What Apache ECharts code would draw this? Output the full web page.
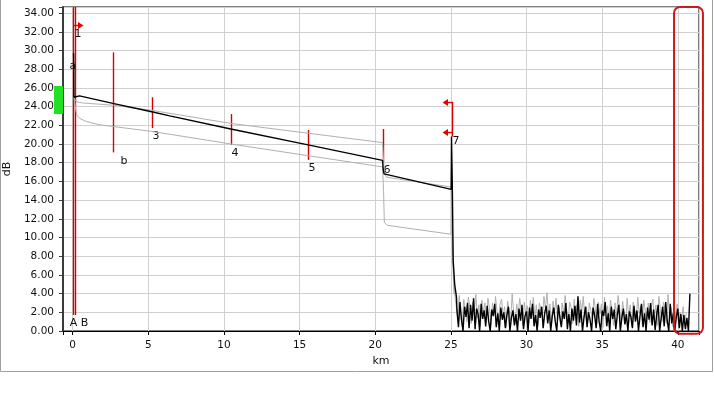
<!DOCTYPE html>
<html><head><meta charset="utf-8">
<script src="https://cdn.jsdelivr.net/npm/echarts@6/dist/echarts.min.js"></script>
<style>html,body{margin:0;padding:0;background:#fff}#c{width:714px;height:400px}</style>
</head><body><div id="c"></div>
<script>
// ---------------- data ----------------
const xMin = -0.64, xMax = 41.4;
const yMin = 0, yMax = 34.65;
const xTickLabels = [0, 5, 10, 15, 20, 25, 30, 35, 40];
const yTickStep = 2;

// main (black) trace, fibre section
const blackKm = [0.06, 0.08, 0.45, 2.65, 5.22, 6.42, 10.45, 15.56, 20.48, 20.52, 20.58, 20.7, 25.02, 25.04, 25.09, 25.15, 25.25, 25.37];
const blackDb = [29.7, 25.0, 25.15, 24.35, 23.45, 23.0, 21.6, 19.9, 18.25, 17.4, 16.8, 16.65, 15.15, 20.8, 16.0, 7.6, 5.0, 3.6];
// main trace, noise floor after the fibre end (sampled every 0.1 km from 25.4 km)
const blackNoiseStartKm = 25.4, blackNoiseStepKm = 0.1;
const blackNoiseDb = [
 2.2,0.4,3.1,1.2,0,2.6,1.5,3.0,0.3,2.8,
 1.1,3.5,0.2,2.4,1.8,0,2.9,1.3,2.2,0.5,
 2.7,1.0,0,2.3,1.6,2.9,0.4,1.9,0,2.5,
 1.2,2.0,0.3,1.7,2.6,0,1.4,2.2,0.6,1.8,
 0,2.4,1.1,2.8,0.2,1.6,2.1,0,2.5,1.3,
 2.9,0.5,1.7,0,2.3,1.4,2.6,0.3,1.9,2.7,
 0.8,2.2,0,1.6,2.5,1.0,0,2.8,1.5,0.4,
 2.1,1.3,3.0,0.2,1.8,0,2.4,1.1,2.7,0.6,
 3.7,0.9,2.3,0,1.5,2.6,0.4,2.0,1.2,0,
 2.5,1.7,0.3,2.9,1.0,0,2.2,1.6,3.1,0.5,
 1.9,0,2.6,1.3,2.3,0.2,1.7,2.8,0,1.4,
 2.4,0.7,1.8,0,2.1,1.5,0.3,2.7,1.0,2.2,
 0,1.6,2.9,0.4,1.9,0,2.5,1.2,3.0,0.6,
 2.3,0.1,1.7,2.8,0,1.4,2.6,0.5,3.1,1.1,
 0,2.9,0.8,1.9,0,1.5,2.4,0.3,1.8,0,
 1.7,0.2,1.4,0,4.0];

// reference trace 1 (upper grey)
const grey1Km = [0.08, 0.2, 0.4, 0.7, 2.65, 5.22, 10.45, 15.56, 20.48, 20.54, 20.62, 20.75, 25.0, 25.04, 25.1, 25.2];
const grey1Db = [25.0, 24.6, 24.45, 24.38, 24.15, 23.6, 22.2, 21.15, 20.15, 18.5, 16.8, 16.45, 15.4, 17.5, 9.0, 4.0];

// reference trace 2 (lower grey)
const grey2Km = [0.08, 0.16, 0.22, 0.3, 0.45, 0.9, 1.79, 5.22, 10.45, 15.56, 20.48, 20.55, 20.6, 20.8, 25.0, 25.02, 25.1, 25.2, 25.3];
const grey2Db = [25.0, 24.2, 23.5, 23.0, 22.75, 22.4, 22.05, 21.35, 20.0, 18.75, 17.55, 15.0, 11.6, 11.3, 10.35, 15.4, 10.0, 5.0, 3.3];
const greyNoiseStartKm = 25.35, greyNoiseStepKm = 0.1;
const greyNoiseDb = [
 3.2,1.5,3.8,2.0,0.6,3.4,2.3,1.0,3.6,2.7,
 0.8,3.1,2.2,3.9,1.4,2.8,0.5,3.3,2.0,3.0,
 1.2,3.5,2.4,0.7,3.0,1.8,3.7,2.1,0.9,2.9,
 3.4,1.6,2.6,0.4,3.2,2.3,1.1,4.0,2.0,0.8,
 2.9,1.7,3.5,2.2,0.6,3.1,1.9,2.7,0.9,3.3,
 2.1,3.6,1.3,2.8,0.5,3.0,2.2,1.5,3.7,2.4,
 4.1,1.8,2.9,0.7,3.2,2.0,3.5,1.1,2.6,0.6,
 3.0,1.9,3.8,2.3,1.0,3.1,2.5,0.8,3.4,1.6,
 2.8,0.5,3.3,2.1,3.7,1.4,2.6,0.9,3.0,2.2,
 1.3,3.5,2.4,0.7,3.1,1.8,2.9,0.4,3.6,2.0,
 2.7,1.0,3.3,2.2,0.6,3.0,1.7,3.8,2.4,1.1,
 3.2,2.0,0.8,3.5,1.6,2.8,0.5,3.1,2.3,1.2,
 3.6,1.9,2.7,0.7,3.3,2.1,1.4,3.0,0.9,2.6,
 3.4,1.5,2.8,0.6,3.7,2.2,1.0,3.1,2.4,0.8,
 3.9,1.7,2.5,0.5,3.2,1.3,2.9,0.4,2.0,1.1,
 2.6,0.6,1.9];

// event markers
const markerNames = ['b', '3', '4', '5', '6', '7'];
const markerKm = [2.65, 5.22, 10.45, 15.56, 20.52, 25.05];
const markerTopDb = [29.8, 25.0, 23.2, 21.5, 21.6, 24.5];
const markerBottomDb = [19.1, 21.7, 19.9, 18.3, 18.1, 20.8];

// A / B cursors
const cursorNames = ['A', 'B'];
const cursorKm = [0.02, 0.17];
const cursorTopDb = [34.65, 34.65];
const cursorBottomDb = [1.7, 1.7];

// arrows (1 = right, -1 = left)
const arrowLabels = ['1', '', ''];
const arrowKm = [0.02, 25.05, 25.05];
const arrowDb = [32.7, 24.5, 21.3];
const arrowDir = [1, -1, -1];

// free text
const textLabels = ['a'];
const textKm = [0.02];
const textDb = [28.3];

// green level indicator on the dB axis
const levelTopDb = 26.2, levelBottomDb = 23.2;

// red end-zone box
const zoneKm = [39.75, 41.66];
const zoneDb = [34.65, -0.3];

// ---------------- build ----------------
const pairs = (xs, ys) => xs.map((x, i) => [x, ys[i]]);
const blackData = pairs(blackKm, blackDb).concat(blackNoiseDb.map((v, i) => [+(blackNoiseStartKm + i * blackNoiseStepKm).toFixed(2), v]));
const grey1Data = pairs(grey1Km, grey1Db);
const grey2Data = pairs(grey2Km, grey2Db).concat(greyNoiseDb.map((v, i) => [+(greyNoiseStartKm + i * greyNoiseStepKm).toFixed(2), v]));

const RED = '#d80000';
const ARROW = '#e80000';
const LABEL_FONT = '11px "DejaVu Sans"';

const chart = echarts.init(document.getElementById('c'), null, {renderer: 'canvas'});

const option = {
  animation: false,
  backgroundColor: '#fff',
  grid: {left: 63, right: 15, top: 7, bottom: 69, show: true, borderColor: '#000', borderWidth: 1,
         backgroundColor: '#fff', containLabel: false, outerBoundsMode: 'none'},
  xAxis: {
    type: 'value', min: xMin, max: xMax, splitNumber: 8,
    name: 'km', nameLocation: 'middle', nameGap: 22,
    nameTextStyle: {fontFamily: 'DejaVu Sans', fontSize: 11, color: '#111'},
    axisLine: {onZero: false, lineStyle: {color: '#000', width: 1}},
    axisTick: {show: true, length: 4, lineStyle: {color: '#000'}},
    axisLabel: {margin: 9, fontFamily: 'DejaVu Sans', fontSize: 10.5, color: '#111',
      formatter: v => xTickLabels.indexOf(Math.round(v * 1000) / 1000) >= 0 ? String(Math.round(v)) : ''},
    splitLine: {show: true, lineStyle: {color: '#d0d0d0', width: 1}}
  },
  yAxis: {
    type: 'value', min: yMin, max: yMax, interval: yTickStep,
    name: 'dB', nameLocation: 'middle', nameGap: 47, nameRotate: 90,
    nameTextStyle: {fontFamily: 'DejaVu Sans', fontSize: 11, color: '#111'},
    axisLine: {onZero: false, lineStyle: {color: '#3a3a3a', width: 2}},
    axisTick: {show: true, length: 4, lineStyle: {color: '#3a3a3a'}},
    axisLabel: {margin: 9, fontFamily: 'DejaVu Sans', fontSize: 10.5, color: '#111',
      formatter: v => (v <= 34.01 && Math.abs(v / yTickStep - Math.round(v / yTickStep)) < 1e-6) ? v.toFixed(2) : ''},
    splitLine: {show: true, lineStyle: {color: '#d0d0d0', width: 1}}
  },
  series: [
    // cursors A / B
    {
      type: 'custom', z: 3, silent: true,
      data: cursorKm.map((k, i) => [k, cursorTopDb[i], cursorBottomDb[i], i]),
      encode: {x: 0, y: [1, 2]},
      renderItem: (params, api) => {
        const i = api.value(3);
        const p1 = api.coord([api.value(0), api.value(1)]);
        const p2 = api.coord([api.value(0), api.value(2)]);
        const x = Math.round(p1[0]) + 0.5;
        const name = cursorNames[i];
        return {type: 'group', children: [
          {type: 'line', shape: {x1: x, y1: p1[1], x2: x, y2: p2[1]}, style: {stroke: RED, lineWidth: 1.4}},
          {type: 'text', style: {text: name, x: x + (name === 'B' ? 9 : 0), y: p2[1] + 3, align: 'center', verticalAlign: 'top', font: LABEL_FONT, fill: '#111'}}
        ]};
      }
    },
    // event markers
    {
      type: 'custom', z: 3, silent: true,
      data: markerKm.map((k, i) => [k, markerTopDb[i], markerBottomDb[i], i]),
      encode: {x: 0, y: [1, 2]},
      renderItem: (params, api) => {
        const i = api.value(3);
        const p1 = api.coord([api.value(0), api.value(1)]);
        const p2 = api.coord([api.value(0), api.value(2)]);
        const x = Math.round(p1[0]) + 0.5;
        const name = markerNames[i];
        const dx = name === 'b' ? 7 : 0;
        const dy = name === '7' ? -1 : 3;
        return {type: 'group', children: [
          {type: 'line', shape: {x1: x, y1: p1[1], x2: x, y2: p2[1]}, style: {stroke: RED, lineWidth: 1.4}},
          {type: 'text', style: {text: name, x: x + dx, y: p2[1] + dy, align: 'left', verticalAlign: 'top', font: LABEL_FONT, fill: '#111'}}
        ]};
      }
    },
    // arrows
    {
      type: 'custom', z: 3, silent: true,
      data: arrowKm.map((k, i) => [k, arrowDb[i], arrowDir[i], i]),
      encode: {x: 0, y: 1},
      renderItem: (params, api) => {
        const i = api.value(3);
        const d = api.value(2);
        const p = api.coord([api.value(0), api.value(1)]);
        const x = Math.round(p[0]) + 0.5, y = Math.round(p[1]) + 0.5;
        const children = [
          {type: 'line', shape: {x1: x, y1: y, x2: x + d * 5, y2: y}, style: {stroke: ARROW, lineWidth: 1.4}},
          {type: 'polygon', shape: {points: [[x + d * 4.5, y - 3.5], [x + d * 4.5, y + 3.5], [x + d * 10, y]]}, style: {fill: ARROW}}
        ];
        if (arrowLabels[i]) children.push({type: 'text', style: {text: arrowLabels[i], x: x + 1, y: y + 3, align: 'left', verticalAlign: 'top', font: LABEL_FONT, fill: '#111'}});
        return {type: 'group', children};
      }
    },
    // free text labels
    {
      type: 'custom', z: 6, silent: true,
      data: textKm.map((k, i) => [k, textDb[i], i]),
      encode: {x: 0, y: 1},
      renderItem: (params, api) => {
        const p = api.coord([api.value(0), api.value(1)]);
        return {type: 'text', style: {text: textLabels[api.value(2)], x: p[0], y: p[1], align: 'center', verticalAlign: 'middle', font: LABEL_FONT, fill: '#111'}};
      }
    },
    // green level box
    {
      type: 'custom', z: 6, silent: true, clip: false,
      data: [[xMin, levelTopDb, levelBottomDb]],
      encode: {x: 0, y: [1, 2]},
      renderItem: (params, api) => {
        const p1 = api.coord([api.value(0), api.value(1)]);
        const p2 = api.coord([api.value(0), api.value(2)]);
        return {type: 'rect', shape: {x: p1[0] - 9, y: p1[1], width: 9, height: p2[1] - p1[1]}, style: {fill: '#22e022'}};
      }
    },
    // red end zone
    {
      type: 'custom', z: 7, silent: true, clip: false,
      data: [[zoneKm[0], zoneDb[0], zoneKm[1], zoneDb[1]]],
      encode: {x: [0, 2], y: [1, 3]},
      renderItem: (params, api) => {
        const p1 = api.coord([api.value(0), api.value(1)]);
        const p2 = api.coord([api.value(2), api.value(3)]);
        return {type: 'rect', shape: {x: p1[0], y: p1[1], width: p2[0] - p1[0], height: p2[1] - p1[1], r: 6}, style: {fill: null, stroke: '#d01818', lineWidth: 2}};
      }
    },
    {type: 'line', z: 4, data: grey2Data, showSymbol: false, symbol: 'none', silent: true, lineStyle: {color: '#b0b0b0', width: 1}},
    {type: 'line', z: 4, data: grey1Data, showSymbol: false, symbol: 'none', silent: true, lineStyle: {color: '#b0b0b0', width: 1}},
    {type: 'line', z: 5, data: blackData, showSymbol: false, symbol: 'none', silent: true, lineStyle: {color: '#000', width: 1.4}}
  ],
  graphic: [
    {type: 'polyline', silent: true, shape: {points: [[0.5, 0], [0.5, 371.5], [712.5, 371.5], [712.5, 0]]}, style: {stroke: '#a0a0a0', lineWidth: 1, fill: null}}
  ]
};
chart.setOption(option);
</script>
</body></html>
